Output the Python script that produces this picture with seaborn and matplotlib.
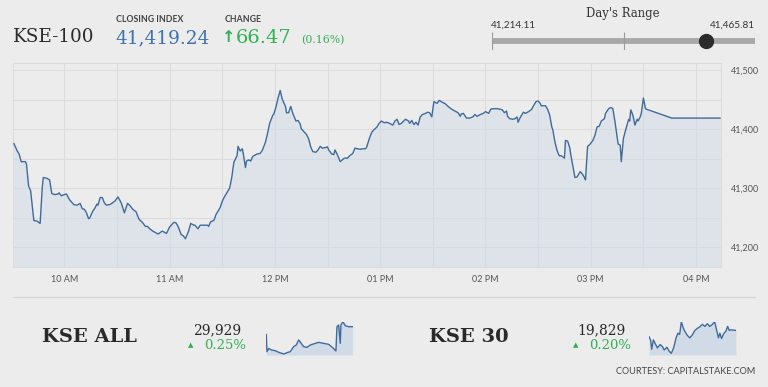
import numpy as np
import pandas as pd
import matplotlib
matplotlib.use("Agg")
import matplotlib.pyplot as plt
import seaborn as sns

# KSE-100 intraday values (hour of day, index level)
kse100_hours = [
    9.52, 9.55, 9.57, 9.59, 9.63, 9.64, 9.66, 9.68, 9.71, 9.74, 9.77, 9.79, 9.80, 9.83, 9.86,
    9.88, 9.91, 9.94, 9.95, 9.97, 10.00, 10.02, 10.05, 10.09, 10.12, 10.15, 10.17, 10.19, 10.21,
    10.23, 10.24, 10.27, 10.29, 10.31, 10.32, 10.34, 10.36, 10.38, 10.40, 10.43, 10.45, 10.48,
    10.51, 10.54, 10.57, 10.60, 10.62, 10.65, 10.68, 10.71, 10.74, 10.77, 10.79, 10.81, 10.84,
    10.87, 10.89, 10.93, 10.95, 10.97, 11.00, 11.04, 11.06, 11.08, 11.11, 11.13, 11.15,
    11.18, 11.20, 11.23, 11.24, 11.27, 11.29, 11.32, 11.36, 11.37, 11.39, 11.42, 11.44, 11.46,
    11.48, 11.50, 11.52, 11.54, 11.57, 11.59, 11.61, 11.64, 11.65, 11.67, 11.69, 11.70, 11.72,
    11.73, 11.75, 11.77, 11.79, 11.83, 11.86, 11.88, 11.91, 11.93, 11.95, 11.98, 11.99, 12.01,
    12.03, 12.05, 12.07, 12.10, 12.11, 12.13, 12.15, 12.17, 12.20, 12.22, 12.24, 12.25, 12.28,
    12.30, 12.32, 12.34, 12.36, 12.39, 12.41, 12.43, 12.45, 12.48, 12.50, 12.51, 12.54, 12.56,
    12.57, 12.59, 12.60, 12.62, 12.64, 12.66, 12.69, 12.71, 12.74, 12.76, 12.78, 12.81, 12.84,
    12.86, 12.87, 12.90, 12.92, 12.94, 12.97, 12.99, 13.01, 13.04, 13.06, 13.09, 13.12, 13.14,
    13.16, 13.18, 13.20, 13.24, 13.27, 13.28, 13.30, 13.32, 13.34, 13.36, 13.38, 13.40, 13.43,
    13.45, 13.47, 13.49, 13.51, 13.54, 13.56, 13.58, 13.62, 13.65, 13.68, 13.71, 13.74, 13.76,
    13.77, 13.79, 13.82, 13.85, 13.88, 13.90, 13.92, 13.95, 13.98, 14.00, 14.03, 14.05, 14.07,
    14.11, 14.14, 14.16, 14.18, 14.20, 14.21, 14.23, 14.26, 14.28, 14.30, 14.31, 14.33, 14.36,
    14.38, 14.41, 14.44, 14.45, 14.48, 14.50, 14.52,
    14.53, 14.57, 14.59, 14.61, 14.63, 14.64, 14.66, 14.68, 14.70, 14.72, 14.75, 14.76, 14.78,
    14.80, 14.81, 14.83, 14.85, 14.87, 14.90, 14.92, 14.94, 14.95, 14.97, 14.99, 15.02, 15.04,
    15.06, 15.08, 15.10, 15.13, 15.14, 15.17, 15.19, 15.21, 15.23, 15.25, 15.26, 15.28, 15.29,
    15.31, 15.33, 15.36, 15.37, 15.38, 15.40, 15.42, 15.44, 15.45, 15.47, 15.48, 15.50, 15.52,
    15.53, 15.77, 16.23,
]
kse100_values = [
    41376, 41364, 41358, 41345, 41345, 41341, 41304, 41295, 41245, 41244, 41240, 41301, 41318, 41317, 41314,
    41291, 41289, 41290, 41292, 41287, 41289, 41290, 41280, 41272, 41271, 41274, 41265, 41264, 41258,
    41248, 41249, 41261, 41266, 41273, 41271, 41284, 41284, 41275, 41271, 41272, 41274, 41278,
    41285, 41275, 41258, 41274, 41271, 41264, 41260, 41247, 41242, 41235, 41235, 41231, 41227,
    41224, 41222, 41227, 41225, 41223, 41234, 41242, 41241, 41235, 41221, 41219, 41214,
    41227, 41240, 41237, 41237, 41231, 41237, 41237, 41237, 41235, 41243, 41245, 41255, 41261,
    41267, 41278, 41285, 41291, 41300, 41318, 41344, 41355, 41371, 41363, 41367, 41358, 41335,
    41346, 41348, 41346, 41354, 41358, 41359, 41364, 41378, 41393, 41410, 41424, 41426, 41438,
    41453, 41466, 41451, 41439, 41428, 41428, 41439, 41427, 41414, 41415, 41409, 41401, 41395,
    41391, 41384, 41370, 41362, 41361, 41365, 41371, 41368, 41369, 41370, 41365, 41358, 41357,
    41365, 41358, 41354, 41345, 41348, 41351, 41351, 41355, 41359, 41368, 41367, 41366, 41367,
    41367, 41369, 41386, 41395, 41399, 41404, 41410, 41414, 41411, 41412, 41410, 41407, 41414,
    41417, 41408, 41410, 41417, 41414, 41410, 41415, 41408, 41412, 41407, 41421, 41425, 41427,
    41429, 41428, 41421, 41447, 41444, 41449, 41447, 41443, 41438, 41434, 41431, 41428, 41422,
    41426, 41427, 41419, 41419, 41421, 41425, 41422, 41425, 41427, 41430, 41427, 41434, 41435,
    41435, 41434, 41433, 41428, 41431, 41422, 41418, 41417, 41418, 41421, 41412, 41420, 41429,
    41427, 41430, 41434, 41438, 41447, 41448, 41444,
    41440, 41440, 41434, 41424, 41404, 41399, 41378, 41364, 41355, 41355, 41351, 41381, 41380,
    41369, 41357, 41337, 41318, 41319, 41328, 41324, 41318, 41314, 41371, 41374, 41381, 41390,
    41404, 41405, 41414, 41418, 41427, 41435, 41437, 41435, 41413, 41387, 41375, 41373, 41345,
    41384, 41398, 41417, 41414, 41433, 41424, 41407, 41417, 41414, 41421, 41427, 41453, 41435,
    41434, 41419, 41419,
]

# small intraday charts
kseall_hours = [9.50, 9.55, 9.69, 9.89, 10.20, 10.47, 10.86, 11.12, 11.37, 11.64, 11.84, 12.03,
                12.23, 12.42, 12.68, 12.94, 13.33, 13.59, 13.98, 14.37, 14.69, 14.94, 15.02,
                15.15, 15.28, 15.33, 15.49, 15.67, 15.94, 16.25]
kseall_values = [29906, 29854, 29864, 29859, 29857, 29852, 29847, 29851, 29854, 29869, 29874,
                 29889, 29879, 29869, 29867, 29874, 29879, 29882, 29879, 29876, 29866, 29856,
                 29929, 29934, 29879, 29934, 29944, 29932, 29929, 29929]
kse30_hours = [9.50, 9.63, 9.71, 9.84, 9.97, 10.15, 10.36, 10.54, 10.68, 10.89, 11.07, 11.23,
               11.41, 11.60, 11.75, 11.88, 12.01, 12.15, 12.27, 12.46, 12.66, 12.85, 13.06,
               13.24, 13.42, 13.64, 13.84, 14.03, 14.21, 14.42, 14.60, 14.74, 14.89, 15.00,
               15.13, 15.29, 15.47, 15.60, 15.73, 15.86, 16.25]
kse30_values = [19820, 19814, 19801, 19815, 19810, 19803, 19808, 19805, 19800, 19804, 19798,
                19795, 19803, 19818, 19825, 19823, 19842, 19833, 19828, 19822, 19818, 19822,
                19829, 19832, 19834, 19838, 19835, 19839, 19835, 19838, 19842, 19830, 19818,
                19825, 19817, 19824, 19828, 19835, 19829, 19830, 19829]

closing_index = 41419.24
change_points = 66.47
change_pct = 0.16
day_low = 41214.11
day_high = 41465.81

hour_ticks = [10, 11, 12, 13, 14, 15, 16]
hour_labels = ["10 AM", "11 AM", "12 PM", "01 PM", "02 PM", "03 PM", "04 PM"]
value_ticks = [41200, 41300, 41400, 41500]

sub_names = ["KSE ALL", "KSE 30"]
sub_closing = [29929, 19829]
sub_change = [0.25, 0.20]

BG = "#ececec"
GRID = "#dcdcdc"
LINE = "#3f6b9b"
FILL = "#d0dbe8"
GREEN = "#2fb150"
BLUE = "#3f72ad"
DARK = "#2a2a2a"

sns.set_theme(style="white")
plt.rcParams["font.family"] = ["Lato", "DejaVu Sans"]

W, H = 768, 387


def fx(x):
    return x / W


def fy(y):
    return 1 - y / H


fig = plt.figure(figsize=(W / 100, H / 100), dpi=100, facecolor=BG)

# main chart
ax = fig.add_axes([fx(13.3), fy(267), (721.3 - 13.3) / W, (267 - 63) / H])
ax.set_facecolor(BG)
y_bottom = 41166
ax.fill_between(kse100_hours, kse100_values, y_bottom, color=FILL, alpha=0.5, lw=0, zorder=1)
sns.lineplot(x=kse100_hours, y=kse100_values, ax=ax, color=LINE, linewidth=1.0,
             estimator=None, zorder=3)
ax.set_xlim(9.515, 16.24)
ax.set_ylim(y_bottom, 41512.6)
ax.set_xticks(hour_ticks, hour_labels)
ax.set_xticks(np.arange(10.5, 16.1, 1.0), minor=True)
ax.yaxis.tick_right()
ax.set_yticks(value_ticks, [f"{v:,}" for v in value_ticks])
ax.set_yticks(np.arange(41250, 41500, 100), minor=True)
ax.grid(which="both", color=GRID, linewidth=0.8, zorder=0)
ax.set_axisbelow(True)
ax.tick_params(which="both", length=0)
ax.tick_params(axis="x", pad=6, labelsize=6.5, labelcolor="#555555")
ax.tick_params(axis="y", pad=7, labelsize=6.5, labelcolor="#555555")
for s in ax.spines.values():
    s.set_color(GRID)
    s.set_linewidth(0.8)
ax.set_xlabel("")
ax.set_ylabel("")

# header
fig.text(fx(13), fy(37.5), "KSE-100", family="DejaVu Serif", fontsize=13.2,
         color=DARK, va="center", ha="left")
fig.text(fx(116), fy(19.5), "CLOSING INDEX", fontsize=6.3, color="#444444",
         va="center", ha="left", weight="bold")
fig.text(fx(115), fy(38), f"{closing_index:,.2f}", family="DejaVu Serif", fontsize=13.3,
         color=BLUE, va="center", ha="left")
fig.text(fx(225), fy(19.5), "CHANGE", fontsize=6.3, color="#444444",
         va="center", ha="left", weight="bold")
fig.text(fx(229), fy(38), "\u2191", family=["DejaVu Sans"], fontsize=11.5, color=GREEN,
         va="center", ha="center", weight="bold")
fig.text(fx(236), fy(38), f"{change_points:.2f}", family="DejaVu Serif", fontsize=14,
         color=GREEN, va="center", ha="left")
fig.text(fx(301), fy(40.5), f"({change_pct:.2f}%)", family="DejaVu Serif", fontsize=7.8,
         color=GREEN, va="center", ha="left")

# day's range
rx = fig.add_axes([fx(492), fy(50), (755 - 492) / W, (50 - 31.7) / H])
rx.set_facecolor("none")
rx.set_xlim(day_low, day_high)
rx.set_ylim(-1, 1)
rx.axis("off")
rx.plot([day_low, day_high], [0, 0], color="#a8a8a8", lw=4.2, solid_capstyle="butt")
rx.vlines([day_low, (day_low + day_high) / 2, day_high], -1, 1, color="#9a9a9a", lw=0.8)
rx.plot([closing_index], [0], "o", color="#2b2b2b", markersize=10, clip_on=False)
fig.text(fx(623), fy(14), "Day's Range", family="DejaVu Serif", fontsize=8.4,
         color="#333333", ha="center", va="center")
fig.text(fx(491), fy(25.5), f"{day_low:,.2f}", fontsize=7.2, color="#333333",
         ha="left", va="center")
fig.text(fx(755), fy(25.5), f"{day_high:,.2f}", fontsize=7.2, color="#333333",
         ha="right", va="center")

# separator
fig.add_artist(plt.Line2D([fx(13), fx(755)], [fy(297.3), fy(297.3)], color="#d6d6d6", lw=0.9))

# sub indices
subs = [
    (kseall_hours, kseall_values, 29844, [266.3, 352.7], 89, 217),
    (kse30_hours, kse30_values, 19792.5, [649, 736], 469, 602),
]
for i, (hrs, vals, base, (x0, x1), name_x, num_x) in enumerate(subs):
    sx = fig.add_axes([fx(x0), fy(355), (x1 - x0) / W, (355 - 321.7) / H])
    sx.set_facecolor("none")
    sx.fill_between(hrs, vals, base, color=FILL, alpha=0.95, lw=0)
    sns.lineplot(x=hrs, y=vals, ax=sx, color=LINE, linewidth=1.0, estimator=None)
    sx.set_xlim(9.5, 16.25)
    sx.set_ylim(base, max(vals))
    sx.axis("off")
    fig.text(fx(name_x), fy(337), sub_names[i], family="DejaVu Serif", weight="bold",
             fontsize=14, color=DARK, ha="center", va="center")
    fig.text(fx(num_x + 24), fy(330), f"{sub_closing[i]:,}", family="DejaVu Serif",
             fontsize=10, color=DARK, ha="right", va="center")
    fig.text(fx(num_x - 26), fy(345.5), "\u25b2", family=["DejaVu Sans"], fontsize=5,
             color=GREEN, ha="center", va="center")
    fig.text(fx(num_x + 29), fy(345.5), f"{sub_change[i]:.2f}%", family="DejaVu Serif",
             fontsize=9.5, color=GREEN, ha="right", va="center")

fig.text(fx(755), fy(371.7), "COURTESY: CAPITALSTAKE.COM", fontsize=6.6,
         color="#444444", ha="right", va="center")

fig.savefig("out.png", dpi=100, facecolor=BG)
